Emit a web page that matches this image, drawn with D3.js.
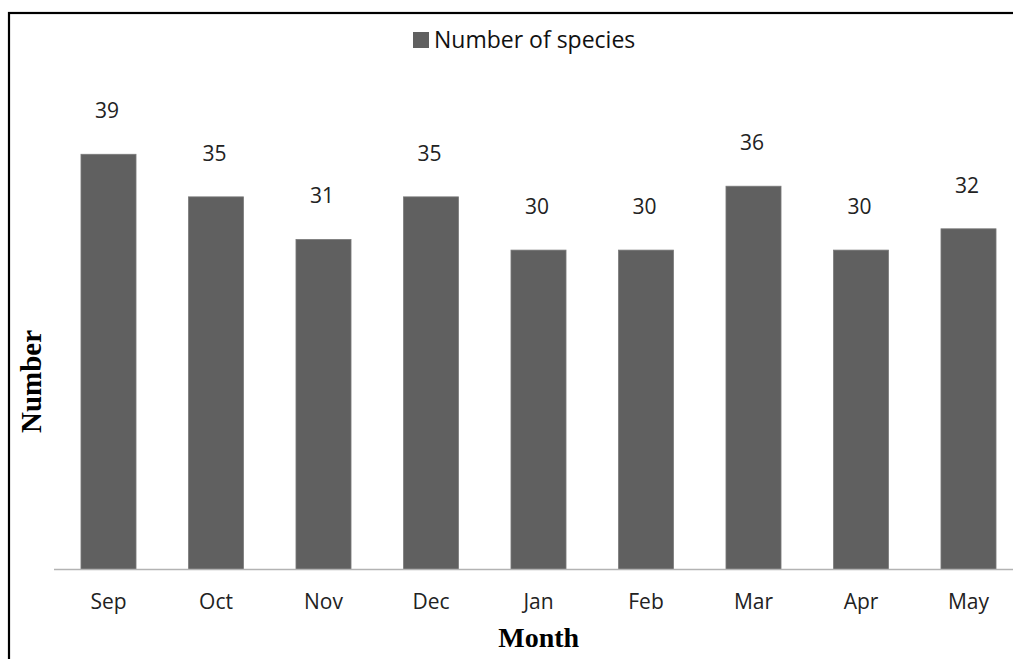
<!DOCTYPE html>
<html>
<head>
<meta charset="utf-8">
<script src="https://cdn.jsdelivr.net/npm/d3@7"></script>
<style>
  html, body { margin: 0; padding: 0; background: #fff; }
  svg { display: block; }
</style>
</head>
<body>
<svg id="chart" width="1013" height="659"></svg>
<script>
// Monthly species counts
const months = ["Sep", "Oct", "Nov", "Dec", "Jan", "Feb", "Mar", "Apr", "May"];
const speciesCounts = [39, 35, 31, 35, 30, 30, 36, 30, 32];
const seriesName = "Number of species";
const xTitle = "Month";
const yTitle = "Number";

const svg = d3.select("#chart");
const W = 1013, H = 659;

svg.append("rect").attr("width", W).attr("height", H).attr("fill", "#fff");

// outer frame (runs past the right and bottom edges)
svg.append("rect")
  .attr("x", 9).attr("y", 13)
  .attr("width", W + 20).attr("height", H + 20)
  .attr("fill", "none").attr("stroke", "#000").attr("stroke-width", 2.2);

const x = d3.scaleBand()
  .domain(months)
  .range([54.75, 1022.25])
  .paddingInner(0.488)
  .paddingOuter(0.244);

const y = d3.scaleLinear()
  .domain([0, 45])
  .range([569.5, 90.4]);

const data = months.map((m, i) => ({ month: m, value: speciesCounts[i] }));

// bars
svg.append("g").selectAll("rect")
  .data(data)
  .join("rect")
  .attr("x", d => x(d.month))
  .attr("y", d => y(d.value))
  .attr("width", x.bandwidth())
  .attr("height", d => y(0) - y(d.value))
  .attr("fill", "#606060")
  .attr("stroke", "#7a7a7a")
  .attr("stroke-width", 0.8);

// category axis: baseline and month names
const xAxis = svg.append("g")
  .attr("transform", `translate(0,${y(0)})`)
  .call(d3.axisBottom(x).tickSize(0).tickPadding(0));
xAxis.select(".domain").remove();
xAxis.append("line")
  .attr("x1", 54).attr("x2", W)
  .attr("y1", 0).attr("y2", 0)
  .attr("stroke", "#b3b3b3").attr("stroke-width", 1.5);
xAxis.selectAll(".tick text")
  .attr("y", 39.5)
  .attr("dy", 0)
  .attr("font-family", "'Open Sans', sans-serif")
  .attr("font-size", 21)
  .attr("fill", "#222");

// value labels above bars
svg.append("g").selectAll("text")
  .data(data)
  .join("text")
  .attr("x", d => x(d.month) + x.bandwidth() / 2 - 1.5)
  .attr("y", d => y(d.value) - 36)
  .attr("text-anchor", "middle")
  .attr("font-family", "'Open Sans', sans-serif")
  .attr("font-size", 21)
  .attr("fill", "#222")
  .text(d => d.value);

// legend
const legend = svg.append("g").attr("transform", "translate(413,32)");
legend.append("rect")
  .attr("x", 0).attr("y", 0)
  .attr("width", 16).attr("height", 16)
  .attr("fill", "#606060");
legend.append("text")
  .attr("x", 21).attr("y", 16)
  .attr("font-family", "'Open Sans', sans-serif")
  .attr("font-size", 23)
  .attr("fill", "#111")
  .text(seriesName);

// axis titles
svg.append("text")
  .attr("x", 538.7).attr("y", 646.5)
  .attr("text-anchor", "middle")
  .attr("font-family", "'Liberation Serif', 'Times New Roman', serif")
  .attr("font-weight", "bold")
  .attr("font-size", 28)
  .attr("fill", "#000")
  .text(xTitle);

svg.append("text")
  .attr("transform", "translate(41,381.5) rotate(-90)")
  .attr("text-anchor", "middle")
  .attr("font-family", "'Liberation Serif', 'Times New Roman', serif")
  .attr("font-weight", "bold")
  .attr("font-size", 29)
  .attr("fill", "#000")
  .text(yTitle);
</script>
</body>
</html>
